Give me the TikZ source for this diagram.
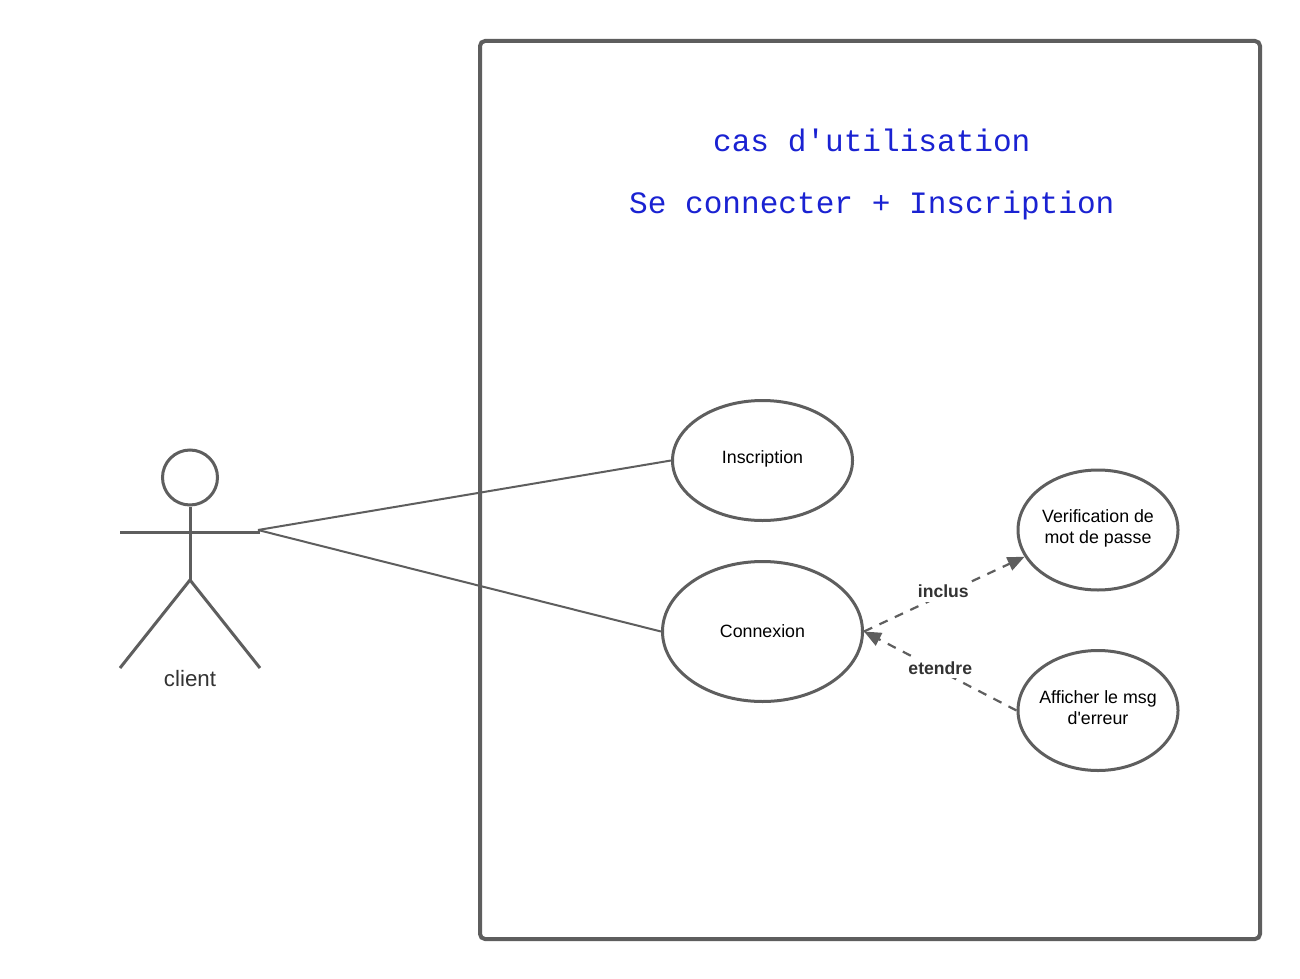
\documentclass[tikz,border=0pt]{standalone}
\usepackage{fontspec}
\newfontfamily\sansfam{Liberation Sans}
\newfontfamily\monofam{Liberation Mono}
\usetikzlibrary{arrows.meta,shapes.geometric}
\definecolor{ln}{HTML}{5E5E5E}
\definecolor{ttl}{HTML}{1A22D2}
\definecolor{lbl}{HTML}{333333}
\tikzset{
  uc/.style={ellipse,draw=ln,line width=3pt,fill=white,inner sep=0pt},
  uctext/.style={align=center,inner sep=0pt,font=\sansfam\fontsize{17.8}{21}\selectfont,text=black},
  limb/.style={draw=ln,line width=3pt},
  assoc/.style={draw=ln,line width=2pt},
  dep/.style={draw=ln,line width=2.2pt,dash pattern=on 9pt off 8pt,-{Triangle[length=17pt,width=14pt]}},
  deplabel/.style={fill=white,inner xsep=2pt,inner ysep=4pt,font=\sansfam\bfseries\fontsize{17.6}{20}\selectfont,text=lbl},
  ttlnode/.style={font=\monofam\fontsize{31.1}{36}\selectfont,text=ttl,inner sep=0pt},
  frame/.style={draw=ln,line width=4pt,rounded corners=5pt}
}
\begin{document}
\begin{tikzpicture}[x=1pt,y=-1pt]
\useasboundingbox (0,0) rectangle (1300,979);
\fill[white] (0,0) rectangle (1300,979);
\draw[frame] (480,41) rectangle (1260,939);
\node[ttlnode] (t1) at (871.8,140) {cas d'utilisation};
\node[ttlnode] (t2) at (871.8,205) {Se connecter + Inscription};
% actor
\node[circle,draw=ln,line width=3pt,minimum size=55pt,inner sep=0pt] (head) at (190,477.5) {};
\coordinate (hip) at (190,580);
\coordinate (armL) at (120,532);
\coordinate (armR) at (260,532);
\coordinate (footL) at (120,668);
\coordinate (footR) at (260,668);
\coordinate (hand) at (258,530);
\draw[limb] (head.south) -- (hip);
\draw[limb] (armL) -- (armR);
\draw[limb] (footL) -- (hip) -- (footR);
\node[font=\sansfam\fontsize{22.3}{26}\selectfont,text=lbl,inner sep=0pt] (client) at (190,679) {client};
% use cases
\node[uc,minimum width=180pt,minimum height=120pt,label={[uctext,yshift=1.5pt]center:Inscription}] (ins) at (762.5,460.5) {};
\node[uc,minimum width=200pt,minimum height=140pt,label={[uctext]center:Connexion}] (con) at (762.5,631.5) {};
\node[uc,minimum width=160pt,minimum height=120pt,label={[uctext,yshift=1.5pt]center:{Verification de\\mot de passe}}] (ver) at (1098,530) {};
\node[uc,minimum width=160pt,minimum height=120pt,label={[uctext,yshift=3pt]center:{Afficher le msg\\d'erreur}}] (aff) at (1098,710.5) {};
% connectors
\draw[assoc] (hand) -- (ins.west);
\draw[assoc] (hand) -- (con.west);
\draw[dep] (con.east) -- (ver.200) node[deplabel,pos=0.5,xshift=-1pt,yshift=3pt] (li) {inclus};
\draw[dep] (aff.west) -- (con.east) node[deplabel,pos=0.5,xshift=0pt,yshift=3pt] (le) {etendre};
\end{tikzpicture}
\end{document}
